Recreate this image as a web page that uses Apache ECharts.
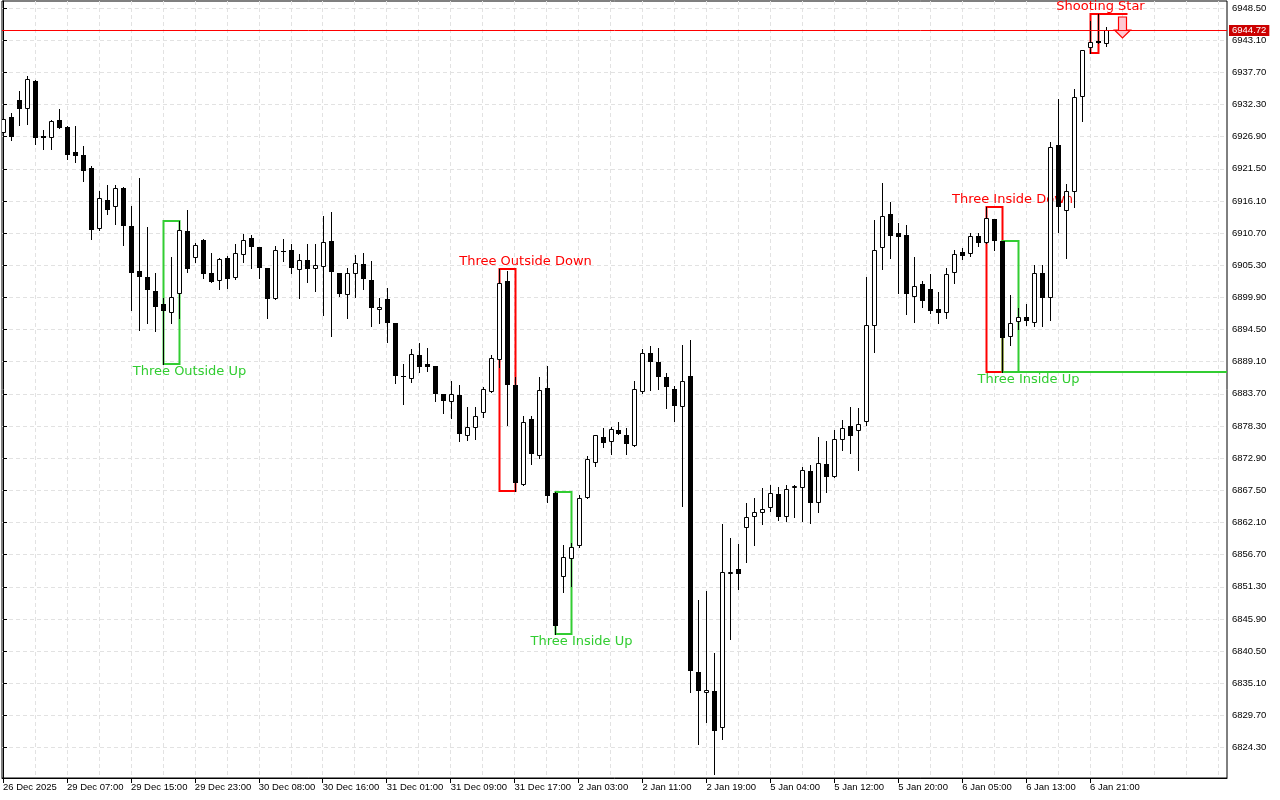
<!DOCTYPE html>
<html>
<head>
<meta charset="utf-8">
<script src="https://cdn.jsdelivr.net/npm/echarts@6/dist/echarts.min.js"></script>
<style>
  html, body { margin: 0; padding: 0; background: #fff; }
  #chart { width: 1280px; height: 800px; }
</style>
</head>
<body>
<div id="chart"></div>
<script>
// ---- DATA ----
const timeLabels = ['26 Dec 2025','29 Dec 07:00','29 Dec 15:00','29 Dec 23:00','30 Dec 08:00','30 Dec 16:00',
  '31 Dec 01:00','31 Dec 09:00','31 Dec 17:00','2 Jan 03:00','2 Jan 11:00','2 Jan 19:00','5 Jan 04:00',
  '5 Jan 12:00','5 Jan 20:00','6 Jan 05:00','6 Jan 13:00','6 Jan 21:00'];
const barsPerLabel = 8;

const priceTicks = [6824.30,6829.70,6835.10,6840.50,6845.90,6851.30,6856.70,6862.10,6867.50,6872.90,
  6878.30,6883.70,6889.10,6894.50,6899.90,6905.30,6910.70,6916.10,6921.50,6926.90,6932.30,6937.70,6943.10,6948.50];

const opens = [6927.46,6930.14,6933.05,6931.49,6936.24,6927.00,6926.72,6929.69,6928.56,6924.37,
  6923.81,6921.68,6911.33,6916.26,6915.03,6918.32,6911.94,6904.38,6903.27,6901.02,
  6898.79,6897.23,6900.42,6911.05,6906.46,6909.54,6904.05,6902.70,6906.46,6903.21,
  6906.97,6909.82,6908.31,6904.79,6899.63,6907.61,6907.81,6904.55,6906.13,6904.62,
  6904.95,6909.32,6903.95,6900.25,6903.78,6905.46,6902.82,6897.73,6899.58,6895.55,
  6886.62,6886.15,6890.18,6888.72,6888.33,6883.68,6882.28,6883.46,6876.62,6878.02,
  6880.44,6884.06,6889.39,6902.65,6885.19,6868.40,6879.43,6873.32,6884.63,6867.00,
  6852.99,6856.02,6858.20,6866.16,6872.14,6876.41,6875.57,6877.63,6876.74,6875.00,
  6884.06,6890.51,6889.00,6886.48,6884.47,6881.44,6886.70,6836.94,6833.42,6833.80,
  6827.54,6853.40,6854.29,6861.13,6863.07,6863.64,6864.58,6866.89,6863.07,6867.84,
  6867.84,6870.75,6865.42,6871.87,6869.69,6875.87,6878.22,6877.41,6878.93,6895.15,
  6908.14,6913.90,6910.76,6910.38,6900.02,6902.15,6901.31,6897.95,6897.33,6903.95,
  6907.57,6907.14,6910.21,6909.08,6913.06,6909.37,6893.20,6895.82,6896.56,6895.68,
  6904.00,6899.75,6925.49,6914.41,6917.65,6933.50,6941.73,6942.96,6942.45];
const highs = [6930.36,6930.81,6934.56,6937.13,6936.41,6928.01,6929.69,6931.54,6928.68,6928.73,
  6925.32,6921.96,6917.77,6918.77,6918.77,6918.49,6915.30,6919.90,6911.77,6904.05,
  6899.80,6906.63,6912.73,6914.58,6909.08,6909.62,6907.41,6906.46,6906.85,6908.87,
  6910.55,6910.33,6908.36,6904.84,6908.53,6909.76,6908.87,6907.19,6908.87,6908.87,
  6913.57,6914.19,6904.00,6904.79,6907.02,6907.30,6906.01,6899.75,6901.43,6895.60,
  6888.66,6891.23,6892.19,6891.35,6888.38,6883.73,6885.86,6885.19,6881.55,6881.55,
  6884.80,6890.23,6904.67,6904.38,6886.58,6879.98,6879.98,6886.58,6888.38,6867.17,
  6858.32,6858.66,6866.72,6873.27,6876.79,6878.02,6878.19,6878.93,6877.92,6885.91,
  6891.18,6891.74,6891.35,6887.15,6885.02,6891.91,6892.75,6849.08,6850.60,6840.13,
  6861.85,6859.45,6858.49,6865.42,6866.26,6867.84,6868.40,6868.11,6868.40,6868.40,
  6871.47,6871.75,6876.41,6875.79,6877.63,6879.31,6881.44,6881.28,6903.38,6912.90,
  6919.16,6915.97,6912.44,6912.06,6906.63,6902.65,6903.83,6900.86,6904.79,6907.86,
  6908.14,6910.76,6910.76,6915.13,6913.06,6909.42,6900.30,6898.07,6898.79,6905.34,
  6905.34,6925.94,6933.22,6918.94,6934.84,6941.44,6946.30,6947.49,6945.36];
const lows = [6926.83,6926.33,6928.85,6929.02,6925.66,6924.82,6924.82,6928.26,6923.14,6922.69,
  6919.50,6909.71,6911.22,6913.90,6912.23,6908.70,6897.78,6894.42,6895.55,6894.31,
  6888.72,6895.65,6896.39,6904.21,6905.76,6903.21,6902.48,6901.36,6901.53,6903.04,
  6905.89,6904.89,6903.21,6896.49,6899.55,6906.06,6904.05,6899.85,6902.54,6901.02,
  6896.99,6893.47,6900.18,6896.49,6900.02,6901.26,6895.15,6895.65,6892.33,6885.58,
  6881.95,6885.74,6887.37,6887.59,6882.55,6880.44,6879.60,6875.84,6875.95,6876.07,
  6879.87,6884.01,6888.26,6878.47,6867.39,6868.31,6871.87,6872.88,6865.59,6843.38,
  6850.48,6851.44,6857.93,6866.13,6871.59,6874.83,6873.60,6876.88,6873.60,6874.94,
  6883.90,6884.35,6884.47,6881.38,6879.19,6864.92,6833.69,6824.90,6828.65,6819.87,
  6825.69,6842.54,6850.93,6855.52,6858.32,6861.85,6864.03,6862.52,6862.40,6863.07,
  6862.40,6861.96,6863.91,6867.27,6869.66,6874.19,6873.69,6870.92,6878.39,6890.78,
  6904.67,6906.57,6900.69,6897.11,6895.82,6898.24,6897.33,6895.65,6896.39,6902.37,
  6906.30,6906.90,6908.53,6909.03,6907.86,6887.42,6891.91,6894.51,6895.18,6895.15,
  6895.10,6896.10,6910.93,6906.57,6915.13,6929.57,6940.89,6942.57,6942.17];
const closes = [6929.81,6926.88,6931.54,6936.57,6926.72,6926.72,6929.52,6928.40,6923.81,6923.69,
  6921.18,6911.22,6916.54,6914.58,6918.32,6911.94,6904.05,6903.38,6901.14,6898.34,
  6897.67,6899.92,6911.22,6904.67,6908.70,6903.78,6902.54,6906.30,6903.04,6907.30,
  6909.49,6908.41,6904.89,6899.58,6907.81,6907.54,6904.79,6906.13,6904.72,6905.29,
  6909.15,6904.21,6900.47,6903.95,6905.63,6902.94,6898.07,6898.24,6895.55,6886.75,
  6886.55,6890.34,6888.26,6888.16,6883.63,6882.55,6883.63,6876.91,6878.09,6880.03,
  6884.47,6889.67,6902.27,6885.19,6868.68,6879.03,6873.55,6884.35,6866.60,6844.77,
  6856.25,6857.93,6866.16,6872.71,6876.74,6875.40,6877.75,6876.91,6875.23,6884.47,
  6890.51,6889.10,6886.48,6884.80,6881.71,6885.91,6837.21,6833.85,6833.97,6827.14,
  6853.74,6853.74,6853.45,6862.97,6863.81,6864.32,6867.00,6863.07,6867.67,6868.23,
  6870.86,6865.42,6872.04,6869.79,6876.07,6877.92,6876.68,6878.59,6895.26,6907.86,
  6913.57,6910.26,6910.09,6900.42,6901.81,6899.35,6897.67,6897.33,6903.78,6907.14,
  6906.90,6910.21,6908.98,6913.18,6909.42,6893.03,6895.55,6896.56,6895.99,6903.95,
  6899.85,6925.11,6915.13,6917.82,6933.60,6941.39,6942.74,6942.67,6944.72];

// Candlestick patterns found: name, first bar, last bar, direction (1 bullish / -1 bearish)
const patternNames = ['Three Outside Up','Three Outside Down','Three Inside Up','Three Inside Down','Three Inside Up','Shooting Star'];
const patternStart = [20, 62, 69, 123, 125, 136];
const patternEnd   = [22, 64, 71, 125, 127, 137];
const patternDir   = [1, -1, 1, -1, 1, -1];

const lastPrice = closes[closes.length - 1];

// ---- CHART ----
const GREEN = '#32cd32', RED = '#ff0000';
const axisFont = '"Liberation Sans", Arial, sans-serif';
const axisFontSize = 9.5;

const candleData = opens.map((o, i) => [i, o, closes[i], lows[i], highs[i]]);
const patternData = patternNames.map((n, k) => {
  let hi = -Infinity, lo = Infinity;
  for (let i = patternStart[k]; i <= patternEnd[k]; i++) { hi = Math.max(hi, highs[i]); lo = Math.min(lo, lows[i]); }
  return [patternStart[k], patternEnd[k], hi, lo, patternDir[k], k];
});

const xMin = -0.125, xMax = 153.125;
const labelBars = timeLabels.map((_, k) => k * barsPerLabel);
const gridBars = [];
for (let i = 0; i <= xMax; i += barsPerLabel / 2) gridBars.push(i);

const chart = echarts.init(document.getElementById('chart'), null, { renderer: 'canvas' });

function renderCandle(params, api) {
  const i = api.value(0), o = api.value(1), c = api.value(2), l = api.value(3), h = api.value(4);
  const pO = api.coord([i, o]), pC = api.coord([i, c]), pL = api.coord([i, l]), pH = api.coord([i, h]);
  const xc = Math.round(pO[0]);
  const top = Math.round(Math.min(pO[1], pC[1])), bot = Math.round(Math.max(pO[1], pC[1]));
  const up = c >= o;
  const children = [{
    type: 'line',
    shape: { x1: xc + 0.5, y1: Math.round(pH[1]), x2: xc + 0.5, y2: Math.round(pL[1]) + 1 },
    style: { stroke: '#000', lineWidth: 1 }
  }];
  if (up) {
    children.push({
      type: 'rect',
      shape: { x: xc - 1.5, y: top + 0.5, width: 4, height: Math.max(bot - top - 1, 0) },
      style: { fill: '#fff', stroke: '#000', lineWidth: 1 }
    });
  } else {
    children.push({
      type: 'rect',
      shape: { x: xc - 2, y: top, width: 5, height: Math.max(bot - top, 1) },
      style: { fill: '#000' }
    });
  }
  return { type: 'group', children };
}

function renderPattern(params, api) {
  const s = api.value(0), e = api.value(1), hi = api.value(2), lo = api.value(3), dir = api.value(4), k = api.value(5);
  const color = dir > 0 ? GREEN : RED;
  const pTL = api.coord([s, hi]), pBR = api.coord([e, lo]);
  const x1 = Math.round(pTL[0]) + 0.5, x2 = Math.round(pBR[0]) + 0.5;
  const y1 = Math.round(pTL[1]), y2 = Math.round(pBR[1]);
  const cs = params.coordSys;
  const children = [{
    type: 'rect',
    shape: { x: x1, y: y1, width: x2 - x1, height: y2 - y1 },
    style: { fill: null, stroke: color, lineWidth: 2 }
  }];
  const shift = (e - s >= 2) ? 10 : 2;
  children.push({
    type: 'text',
    style: {
      text: patternNames[k], x: x2 + shift, y: dir > 0 ? y2 + 8 : y1 - 7,
      fill: color, font: '13px "DejaVu Sans", sans-serif', align: 'center', verticalAlign: 'middle'
    },
    z2: 10
  });
  // most recent bullish signal: level extends to the right edge
  if (dir > 0 && k === patternNames.length - 2) {
    children.push({
      type: 'line',
      shape: { x1: x2, y1: y2, x2: cs.x + cs.width, y2: y2 },
      style: { stroke: color, lineWidth: 2 }
    });
  }
  // latest bearish signal: top extension and arrow
  if (k === patternNames.length - 1) {
    const xa = Math.round(api.coord([e + 3, hi])[0]) + 0.5;
    children.push({
      type: 'line',
      shape: { x1: x2, y1: y1, x2: xa + 5, y2: y1 },
      style: { stroke: color, lineWidth: 2 }
    });
    const t = y1 + 3;
    children.push({
      type: 'polygon',
      shape: { points: [[xa - 4, t], [xa + 4, t], [xa + 4, t + 13], [xa + 8, t + 13], [xa, t + 21], [xa - 8, t + 13], [xa - 4, t + 13]] },
      style: { fill: '#ffc8d2', stroke: color, lineWidth: 1.2 }
    });
  }
  return { type: 'group', children };
}

const option = {
  backgroundColor: '#ffffff',
  animation: false,
  grid: { left: 1, right: 53, top: 1, bottom: 22, show: true, borderColor: '#000', borderWidth: 1, backgroundColor: '#fff' },
  xAxis: [{
    type: 'value', min: xMin, max: xMax, position: 'bottom',
    axisLine: { show: true, onZero: false, lineStyle: { color: '#000', width: 1 } },
    axisTick: { show: true, length: 5, lineStyle: { color: '#000' }, customValues: labelBars },
    axisLabel: {
      customValues: labelBars, color: '#000', fontSize: axisFontSize, fontFamily: axisFont, align: 'left', margin: 4,
      hideOverlap: false, formatter: v => timeLabels[Math.round(v / barsPerLabel)] || ''
    },
    splitLine: { show: false }
  }, {
    type: 'value', min: xMin, max: xMax, position: 'bottom',
    axisLine: { show: false }, axisLabel: { show: false },
    axisTick: { show: false, customValues: gridBars },
    splitLine: { show: true, lineStyle: { color: '#e2e2e2', type: [4, 3], width: 1 } }
  }],
  yAxis: {
    type: 'value', position: 'right', min: 6819.19, max: 6949.67,
    axisLine: { show: true, lineStyle: { color: '#000', width: 1 } },
    axisTick: { show: true, length: 4, lineStyle: { color: '#000' }, customValues: priceTicks },
    axisLabel: {
      customValues: priceTicks, color: '#000', fontSize: axisFontSize, fontFamily: axisFont, margin: 5,
      formatter: v => v.toFixed(2)
    },
    splitLine: { show: true, lineStyle: { color: '#e2e2e2', type: [4, 3], width: 1 } }
  },
  series: [{
    type: 'custom', name: 'patterns', xAxisIndex: 0, z: 2,
    renderItem: renderPattern,
    encode: { x: [0, 1], y: [2, 3] },
    data: patternData,
    clip: false
  }, {
    type: 'custom', name: 'candles', xAxisIndex: 0, z: 3,
    renderItem: renderCandle,
    encode: { x: 0, y: [1, 2, 3, 4] },
    data: candleData,
    clip: true,
    markLine: {
      silent: true, symbol: 'none', animation: false,
      lineStyle: { color: RED, width: 1, type: 'solid' },
      label: {
        show: true, position: 'end', distance: 2, formatter: p => p.value.toFixed(2),
        color: '#fff', backgroundColor: '#cc0000', padding: [1, 3, 0, 3],
        fontSize: axisFontSize, fontFamily: axisFont
      },
      data: [{ yAxis: lastPrice }]
    }
  }]
};
chart.setOption(option);
</script>
</body>
</html>
